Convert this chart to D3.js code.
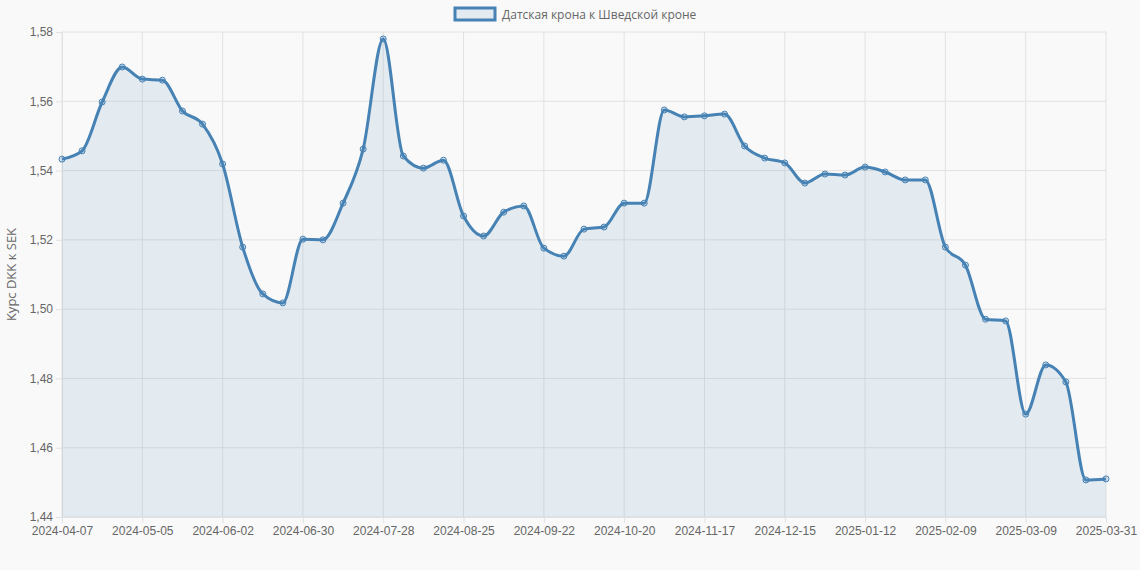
<!DOCTYPE html>
<html><head><meta charset="utf-8">
<script src="https://cdn.jsdelivr.net/npm/d3@7"></script>
<style>body{margin:0;background:#f9f9f9;font-family:"Open Sans","Liberation Sans",Arial,sans-serif;}</style>
</head><body><div id="chart"></div>
<script>
var seriesName = "Датская крона к Шведской кроне";
var yTitle = "Курс DKK к SEK";
var rates = [1.5433,1.5457,1.5598,1.5699,1.5664,1.5661,1.5572,1.5534,1.5419,1.5179,
  1.5044,1.5018,1.5202,1.5200,1.5306,1.5462,1.5780,1.5442,1.5407,1.5430,
  1.5269,1.5211,1.5280,1.5298,1.5176,1.5153,1.5231,1.5237,1.5306,1.5306,
  1.5575,1.5555,1.5558,1.5563,1.5471,1.5436,1.5422,1.5364,1.5390,1.5387,
  1.5410,1.5396,1.5373,1.5373,1.5179,1.5127,1.4971,1.4966,1.4697,1.4839,
  1.4790,1.4507,1.4510];
// weekly dates from 2024-04-07, last one is 2025-03-31
var dates = [];
(function(){
  var d = new Date(Date.UTC(2024,3,7));
  for (var i = 0; i < 52; i++) { dates.push(d.toISOString().slice(0,10)); d = new Date(d.getTime() + 7*864e5); }
  dates.push("2025-03-31");
})();
var yTicks = [1.44,1.46,1.48,1.50,1.52,1.54,1.56,1.58];

var W = 1140, H = 570, m = {l:62, r:34, t:32, b:53};
var svg = d3.select("#chart").append("svg").attr("width", W).attr("height", H);
var x = d3.scalePoint().domain(dates).range([m.l, W - m.r]);
var y = d3.scaleLinear().domain([1.44, 1.58]).range([H - m.b, m.t]);
var fmt = function(v){ return d3.format(".2f")(v).replace(".", ","); };

var grid = svg.append("g").attr("stroke", "#e2e2e2");
grid.selectAll(".hy").data(yTicks).enter().append("line")
  .attr("x1", m.l).attr("x2", W - m.r).attr("y1", y).attr("y2", y);
var shown = dates.filter(function(d, i){ return i % 4 === 0 || i === dates.length - 1; });
grid.selectAll(".vx").data(shown).enter().append("line")
  .attr("x1", x).attr("x2", x).attr("y1", m.t).attr("y2", H - m.b);

svg.append("g").attr("transform", "translate(" + m.l + ",0)")
  .call(d3.axisLeft(y).tickValues(yTicks).tickFormat(fmt).tickSize(6))
  .call(function(g){ g.select(".domain").attr("stroke", "#e2e2e2"); g.selectAll("line").attr("stroke", "#e2e2e2");
    g.selectAll("text").attr("fill", "#666").attr("font-size", 12).attr("font-family", "inherit"); });
svg.append("g").attr("transform", "translate(0," + (H - m.b) + ")")
  .call(d3.axisBottom(x).tickValues(shown).tickSize(6))
  .call(function(g){ g.select(".domain").attr("stroke", "#e2e2e2"); g.selectAll("line").attr("stroke", "#e2e2e2");
    g.selectAll("text").attr("fill", "#666").attr("font-size", 12).attr("font-family", "inherit"); });

svg.append("text").attr("transform", "translate(16," + ((m.t + H - m.b) / 2) + ") rotate(-90)")
  .attr("text-anchor", "middle").attr("fill", "#666").attr("font-size", 13).text(yTitle);

var area = d3.area().x(function(d, i){ return x(dates[i]); }).y0(y(1.44)).y1(function(d){ return y(d); }).curve(d3.curveMonotoneX);
var line = d3.line().x(function(d, i){ return x(dates[i]); }).y(function(d){ return y(d); }).curve(d3.curveMonotoneX);
svg.append("path").datum(rates).attr("d", area).attr("fill", "rgba(70,130,180,0.12)");
svg.append("path").datum(rates).attr("d", line).attr("fill", "none").attr("stroke", "#4682b4").attr("stroke-width", 3);
svg.selectAll(".pt").data(rates).enter().append("circle")
  .attr("cx", function(d, i){ return x(dates[i]); }).attr("cy", y).attr("r", 3)
  .attr("fill", "rgba(70,130,180,0.2)").attr("stroke", "#4682b4").attr("stroke-width", 1);

var lg = svg.append("g");
lg.append("rect").attr("x", 455).attr("y", 8).attr("width", 40).attr("height", 12)
  .attr("fill", "rgba(70,130,180,0.12)").attr("stroke", "#4682b4").attr("stroke-width", 3);
lg.append("text").attr("x", 502).attr("y", 19).attr("fill", "#666").attr("font-size", 12).text(seriesName);
</script></body></html>
